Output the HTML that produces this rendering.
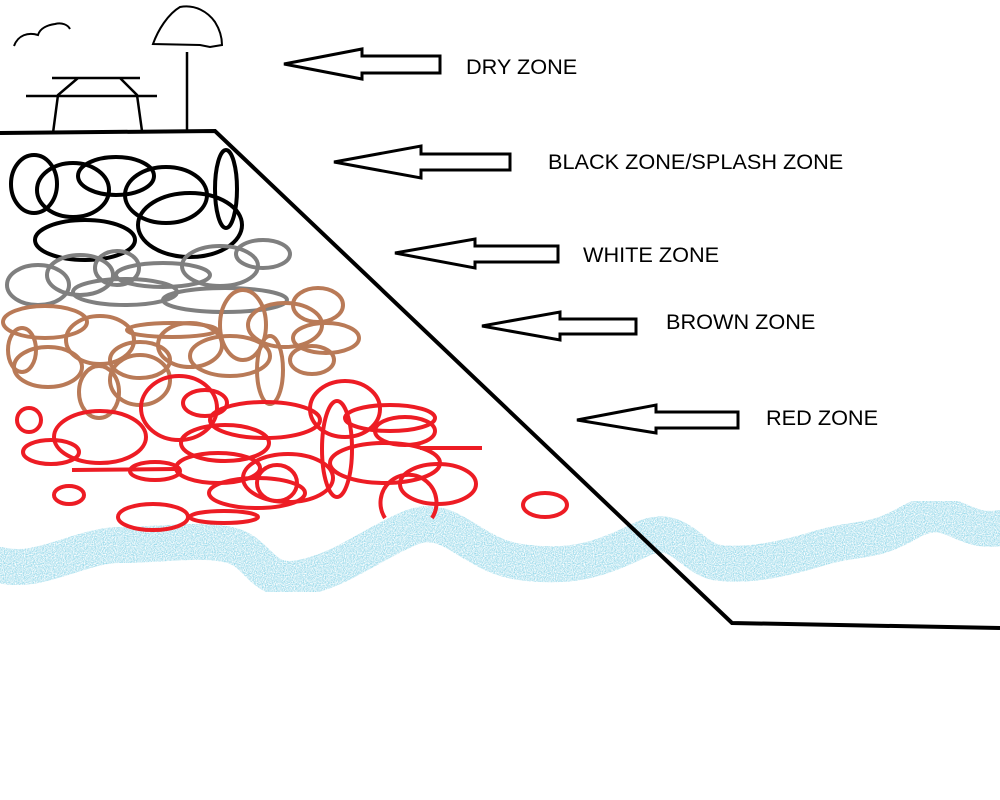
<!DOCTYPE html>
<html><head><style>
html,body{margin:0;padding:0;background:#fff;width:1000px;height:800px;overflow:hidden}
svg{display:block}
text{font-family:"Liberation Sans",sans-serif;font-size:21.7px;fill:#000}
</style></head><body>
<svg width="1000" height="800" viewBox="0 0 1000 800" xmlns="http://www.w3.org/2000/svg">
<defs>
<filter id="sp" x="-5%" y="-20%" width="110%" height="140%">
<feTurbulence type="fractalNoise" baseFrequency="0.9" numOctaves="1" result="n"/>
<feColorMatrix in="n" type="matrix" values="0 0 0 0 0  0 0 0 0 0  0 0 0 0 0  0 0 0 -2.2 1.6" result="m"/>
<feComposite in="SourceGraphic" in2="m" operator="in"/>
</filter>
</defs>
<g filter="url(#sp)">
<path d="M0,565 C40,575 80,545 120,545 S200,538 230,545 S260,585 300,578 S370,545 410,528 S470,555 520,562 S600,560 640,540 S690,560 720,563 S780,560 820,548 S870,545 910,522 S960,535 1000,528" fill="none" stroke="#99d9ea" stroke-width="36" stroke-linecap="round"/>
</g>
<path d="M0,133 L215,131 L732,623 L1000,628" fill="none" stroke="#000" stroke-width="4"/>
<g fill="none" stroke="#000" stroke-width="2.5">
<path d="M52,78 H140 M26,96 H157 M78,78 L58,95 L53,133 M120,78 L137,95 L142,131 M187,52 V131"/>
<path d="M153,44 C158,30 168,14 180,7 C195,4 208,12 215,22 C220,30 222,38 222,45 L210,47 L200,45 L153,44 Z" stroke-width="2"/>
<path d="M14,46 C18,35 28,32 38,35 C40,28 48,25 55,24 C62,22 68,25 70,29" stroke-width="2"/>
</g>
<g fill="none" stroke="#000" stroke-width="4">
<ellipse cx="34" cy="184" rx="23" ry="29"/><ellipse cx="73" cy="190" rx="36" ry="27"/>
<ellipse cx="116" cy="176" rx="38" ry="19"/><ellipse cx="166" cy="195" rx="41" ry="28"/>
<ellipse cx="190" cy="225" rx="52" ry="32"/><ellipse cx="85" cy="240" rx="50" ry="20"/>
<ellipse cx="226" cy="189" rx="11" ry="39"/>
</g>
<g fill="none" stroke="#7f7f7f" stroke-width="4">
<ellipse cx="38" cy="285" rx="31" ry="20"/><ellipse cx="80" cy="275" rx="33" ry="20"/>
<ellipse cx="117" cy="268" rx="22" ry="17"/><ellipse cx="163" cy="275" rx="47" ry="12"/>
<ellipse cx="220" cy="266" rx="38" ry="20"/><ellipse cx="263" cy="254" rx="27" ry="14"/>
<ellipse cx="125" cy="292" rx="52" ry="13"/><ellipse cx="225" cy="300" rx="62" ry="12"/>
</g>
<g fill="none" stroke="#b97a57" stroke-width="4">
<ellipse cx="45" cy="322" rx="42" ry="16"/><ellipse cx="22" cy="350" rx="14" ry="22"/>
<ellipse cx="48" cy="367" rx="34" ry="20"/><ellipse cx="100" cy="340" rx="34" ry="24"/>
<ellipse cx="172" cy="330" rx="45" ry="7"/><ellipse cx="140" cy="360" rx="30" ry="18"/>
<ellipse cx="99" cy="392" rx="20" ry="26"/><ellipse cx="140" cy="380" rx="30" ry="25"/>
<ellipse cx="190" cy="345" rx="32" ry="22"/><ellipse cx="230" cy="356" rx="40" ry="20"/>
<ellipse cx="243" cy="325" rx="23" ry="35"/><ellipse cx="270" cy="370" rx="13" ry="34"/>
<ellipse cx="285" cy="325" rx="37" ry="22"/><ellipse cx="318" cy="305" rx="25" ry="17"/>
<ellipse cx="326" cy="338" rx="33" ry="15"/><ellipse cx="312" cy="360" rx="22" ry="14"/>
</g>
<g fill="none" stroke="#ed1c24" stroke-width="4">
<ellipse cx="29" cy="420" rx="12" ry="12"/><ellipse cx="100" cy="437" rx="46" ry="26"/>
<ellipse cx="51" cy="452" rx="28" ry="12"/><ellipse cx="179" cy="408" rx="38" ry="32"/>
<ellipse cx="205" cy="403" rx="22" ry="13"/><ellipse cx="265" cy="420" rx="55" ry="18"/>
<ellipse cx="225" cy="443" rx="44" ry="18"/><ellipse cx="345" cy="409" rx="35" ry="28"/>
<ellipse cx="337" cy="449" rx="15" ry="48"/><ellipse cx="390" cy="418" rx="45" ry="13"/>
<ellipse cx="405" cy="431" rx="30" ry="14"/><ellipse cx="385" cy="463" rx="55" ry="20"/>
<path d="M420,448 L482,448 M72,470 L175,469"/>
<ellipse cx="155" cy="471" rx="25" ry="9"/><ellipse cx="218" cy="468" rx="42" ry="15"/>
<ellipse cx="288" cy="478" rx="45" ry="24"/><ellipse cx="277" cy="483" rx="20" ry="18"/>
<ellipse cx="257" cy="493" rx="48" ry="15"/><ellipse cx="438" cy="484" rx="38" ry="20"/>
<path d="M385,518 A28,28 0 1 1 432,518"/>
<ellipse cx="69" cy="495" rx="15" ry="9"/><ellipse cx="153" cy="517" rx="35" ry="13"/>
<ellipse cx="224" cy="517" rx="34" ry="6"/><ellipse cx="545" cy="505" rx="22" ry="12"/>
</g>
<g fill="#fff" stroke="#000" stroke-width="3">
<path d="M284,64 L362,49 L362,56 L440,56 L440,73 L362,73 L362,79 Z"/>
<path d="M334,162 L421,146 L421,154 L510,154 L510,170 L421,170 L421,178 Z"/>
<path d="M395,253 L475,239 L475,246 L558,246 L558,262 L475,262 L475,268 Z"/>
<path d="M482,326 L560,312 L560,319 L636,319 L636,334 L560,334 L560,340 Z"/>
<path d="M577,420 L656,405 L656,412 L738,412 L738,428 L656,428 L656,433 Z"/>
</g>
<text x="466" y="74">DRY ZONE</text>
<text x="548" y="169">BLACK ZONE/SPLASH ZONE</text>
<text x="583" y="262">WHITE ZONE</text>
<text x="666" y="329">BROWN ZONE</text>
<text x="766" y="425">RED ZONE</text>
</svg>
</body></html>
